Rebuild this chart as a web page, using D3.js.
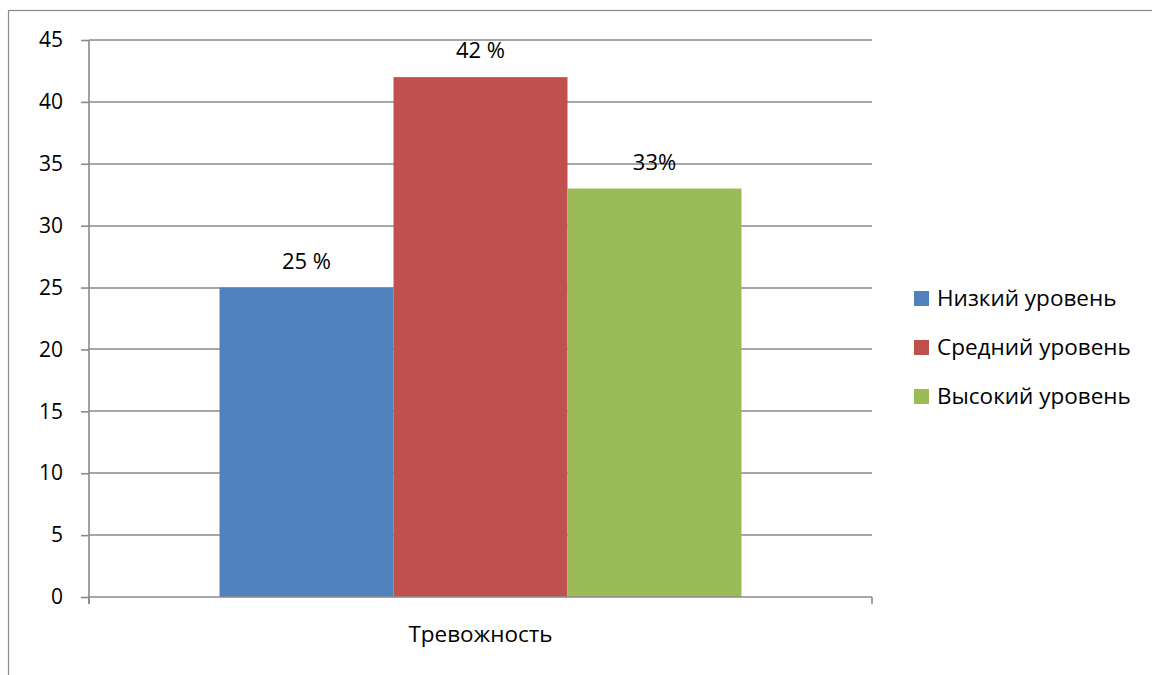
<!DOCTYPE html>
<html>
<head>
<meta charset="utf-8">
<script src="https://cdn.jsdelivr.net/npm/d3@7"></script>
<style>
  html, body { margin: 0; padding: 0; background: #fff; }
  svg { display: block; font-family: "Open Sans", Lato, sans-serif; }
</style>
</head>
<body>
<svg id="chart" width="1152" height="675"></svg>
<script>
// Anxiety levels, percent of respondents
const categories = ["Тревожность"];
const seriesNames = ["Низкий уровень", "Средний уровень", "Высокий уровень"];
const seriesValues = [25, 42, 33];
const valueLabels = ["25 %", "42 %", "33%"];
const seriesColors = ["#4F81BD", "#C0504D", "#9BBB59"];
const yTicks = [0, 5, 10, 15, 20, 25, 30, 35, 40, 45];

const svg = d3.select("#chart");
const W = 1152, H = 675;
const plot = { left: 89, right: 872, top: 40, bottom: 597 };
const axisColor = "#8a8a8a";
const FONT = "'Open Sans', Lato, sans-serif";

// outer chart frame
svg.append("rect")
  .attr("x", 8.5).attr("y", 10.5)
  .attr("width", W + 20).attr("height", H + 20)
  .attr("fill", "none").attr("stroke", axisColor).attr("stroke-width", 1.2);

const y = d3.scaleLinear().domain([0, 45]).range([plot.bottom, plot.top]);
const x0 = d3.scaleBand().domain(categories)
  .range([plot.left, plot.right]).paddingInner(0).paddingOuter(0.25);
const x1 = d3.scaleBand().domain(seriesNames)
  .range([0, x0.bandwidth()]).padding(0);

// horizontal gridlines
svg.append("g").selectAll("line")
  .data(yTicks.filter(d => d > 0))
  .join("line")
  .attr("x1", plot.left).attr("x2", plot.right)
  .attr("y1", d => Math.round(y(d))).attr("y2", d => Math.round(y(d)))
  .attr("stroke", axisColor).attr("stroke-width", 1.6);

// y axis
const yAxis = d3.axisLeft(y).tickValues(yTicks).tickSize(8).tickPadding(18)
  .tickFormat(d3.format("d"));
const gy = svg.append("g")
  .attr("transform", `translate(${plot.left},0)`)
  .call(yAxis);
gy.select(".domain").remove();
gy.selectAll(".tick line").attr("stroke", axisColor).attr("stroke-width", 1.6);
gy.selectAll(".tick text").attr("fill", "#000")
  .style("font-size", "21px").style("font-family", FONT);
gy.append("line")
  .attr("x1", 0).attr("x2", 0)
  .attr("y1", plot.top).attr("y2", plot.bottom + 7)
  .attr("stroke", axisColor).attr("stroke-width", 1.6);

// bars
const g = svg.append("g");
categories.forEach(cat => {
  const gc = g.append("g").attr("transform", `translate(${x0(cat)},0)`);
  gc.selectAll("rect")
    .data(seriesNames.map((n, i) => ({ name: n, value: seriesValues[i], color: seriesColors[i] })))
    .join("rect")
    .attr("x", d => x1(d.name))
    .attr("y", d => y(d.value))
    .attr("width", x1.bandwidth())
    .attr("height", d => y(0) - y(d.value))
    .attr("fill", d => d.color);
  gc.selectAll("text")
    .data(seriesNames.map((n, i) => ({ name: n, value: seriesValues[i], label: valueLabels[i] })))
    .join("text")
    .attr("x", d => x1(d.name) + x1.bandwidth() / 2)
    .attr("y", d => y(d.value) - 19)
    .attr("text-anchor", "middle")
    .style("font-size", "22px")
    .attr("fill", "#000")
    .text(d => d.label);
});

// x axis
const xAxis = d3.axisBottom(x0).tickSize(0).tickPadding(29);
const gx = svg.append("g")
  .attr("transform", `translate(0,${plot.bottom})`)
  .call(xAxis);
gx.select(".domain").remove();
gx.selectAll(".tick text").attr("fill", "#000")
  .style("font-size", "22.5px").style("font-family", FONT);
gx.append("line")
  .attr("x1", plot.left).attr("x2", plot.right).attr("y1", 0).attr("y2", 0)
  .attr("stroke", axisColor).attr("stroke-width", 1.6);
gx.selectAll(".edge")
  .data([plot.left, plot.right])
  .join("line")
  .attr("x1", d => d).attr("x2", d => d).attr("y1", 0).attr("y2", 7)
  .attr("stroke", axisColor).attr("stroke-width", 1.6);

// legend
const legend = svg.append("g").attr("transform", "translate(914,298)");
const items = legend.selectAll("g")
  .data(seriesNames.map((n, i) => ({ name: n, color: seriesColors[i] })))
  .join("g")
  .attr("transform", (d, i) => `translate(0,${i * 49})`);
items.append("rect")
  .attr("x", 0).attr("y", -7).attr("width", 15).attr("height", 15)
  .attr("fill", d => d.color);
items.append("text")
  .attr("x", 23).attr("y", 8)
  .style("font-size", "22.5px")
  .attr("fill", "#000")
  .text(d => d.name);
</script>
</body>
</html>
